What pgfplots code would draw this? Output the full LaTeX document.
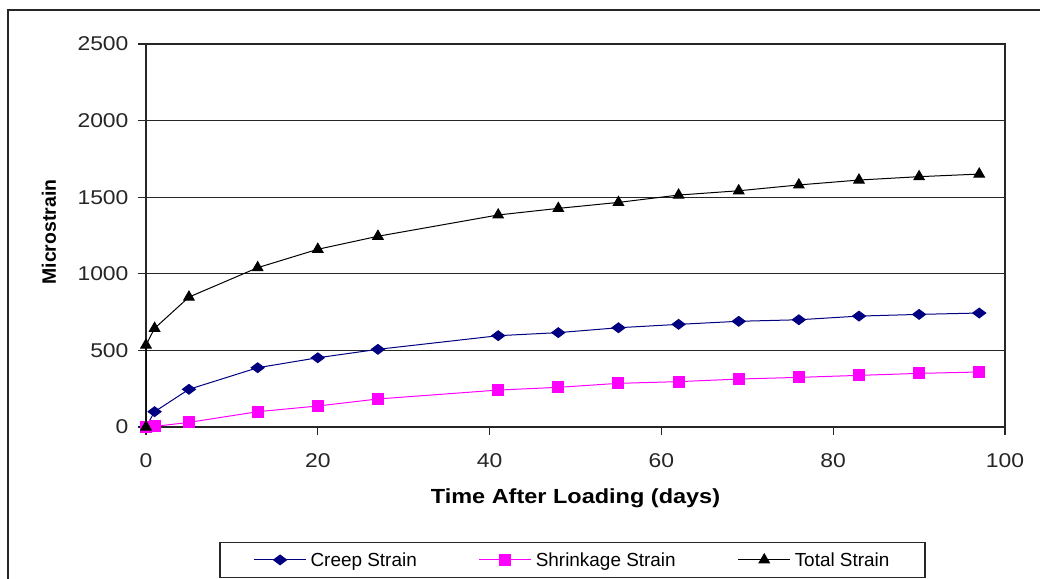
\documentclass[border=0pt]{standalone}
\usepackage{fontspec}
\setmainfont{Liberation Sans}[FakeStretch=1.15]
\newfontfamily\ylabfont{Liberation Sans}
\usepackage{pgfplots}
\pgfplotsset{compat=1.18}
\definecolor{creep}{RGB}{0,0,128}
\definecolor{shrink}{RGB}{255,0,255}

\begin{document}
\begin{tikzpicture}
\useasboundingbox (0,0) rectangle (1040bp,579bp);
\draw[line width=1.2bp, black!85] (8bp,0bp) -- (8bp,569bp) -- (1040bp,569bp);
\begin{axis}[
  at={(146bp,152bp)}, anchor=south west,
  width=859bp, height=383bp, scale only axis,
  xmin=0, xmax=100, ymin=0, ymax=2500,
  xtick={0,20,...,100}, ytick={0,500,...,2500},
  tick pos=left, tick align=outside, major tick length=8bp,
  ymajorgrids, grid style={black!85, line width=1.2bp},
  axis line style={black!85, line width=1.2bp},
  tick style={black!85, line width=1.2bp},
  ticklabel style={font=\fontsize{20}{23}\selectfont, text=black!85},
  /pgf/number format/assume math mode=true,
  /pgf/number format/set thousands separator={},
  yticklabel style={xshift=-6bp},
  xticklabel style={yshift=-15bp},
  xlabel={Time After Loading (days)},
  ylabel={Microstrain},
  every axis x label/.style={at={(axis description cs:0.5,-0.187)}, anchor=center,
     font=\fontsize{20.5}{24}\selectfont\bfseries},
  every axis y label/.style={at={(axis description cs:-0.113,0.509)}, rotate=90, anchor=center,
     font=\fontsize{19.5}{23}\selectfont\ylabfont\bfseries},
  clip=false,
  legend columns=3,
  legend image code/.code={\draw[mark repeat=2,mark phase=2,#1] plot coordinates {(0bp,0bp)(26bp,0bp)(52bp,0bp)};},
  legend style={at={(axis description cs:0.4965,-0.347)}, anchor=center,
    draw=black!85, line width=1.2bp, font=\fontsize{19}{22}\selectfont\ylabfont,
    nodes={inner xsep=2bp},
    /tikz/every odd column/.append style={column sep=2bp},
    /tikz/every even column/.append style={column sep=60bp},
    inner xsep=33.5bp, inner ysep=8bp},
]
\addplot[creep, line width=1bp, mark=diamond*, mark size=6.5bp, mark options={rotate=90, solid}] coordinates {
(0,0) (1,100) (5,246) (13,387) (20,452) (27,507) (41,596) (48,616) (55,648) (62,670) (69,690) (76,700) (83,724) (90,735) (97,744)};
\addlegendentry{Creep Strain}
\addplot[shrink, line width=1bp, mark=square*, mark size=5.5bp] coordinates {
(0,0) (1,4) (5,30) (13,100) (20,137) (27,183) (41,241) (48,259) (55,285) (62,296) (69,313) (76,324) (83,337) (90,350) (97,359)};
\addlegendentry{Shrinkage Strain}
\addplot[black, line width=1bp, mark=triangle*, mark size=6bp] coordinates {
(0,0) (0,535) (1,644) (5,848) (13,1040) (20,1160) (27,1245) (41,1384) (48,1427) (55,1466) (62,1514) (69,1542) (76,1580) (83,1612) (90,1634) (97,1651)};
\addlegendentry{Total Strain}
\end{axis}
\end{tikzpicture}
\end{document}
